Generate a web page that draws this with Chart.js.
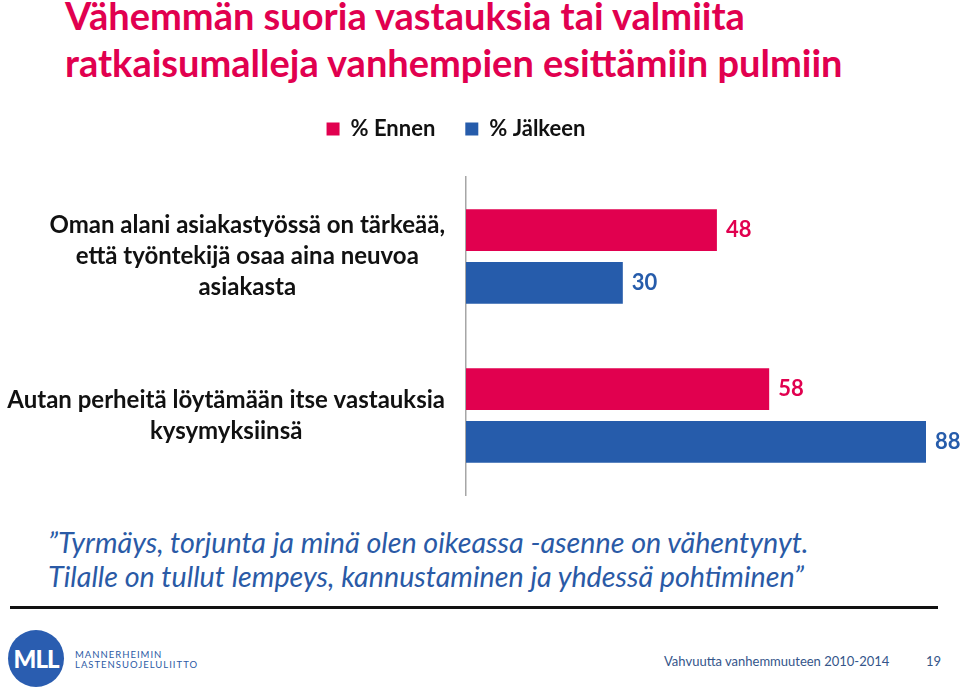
<!DOCTYPE html>
<html lang="fi">
<head>
<meta charset="utf-8">
<script src="https://cdn.jsdelivr.net/npm/chart.js@4.4.0/dist/chart.umd.min.js"></script>
<style>
  html, body { margin: 0; padding: 0; background: #fff; }
  #page { position: relative; width: 960px; height: 692px; overflow: hidden; font-family: Lato, "Open Sans", sans-serif; }
  #title { position: absolute; left: 65px; top: -8px; font-size: 38px; line-height: 47px; font-weight: 700; color: #e1004f; white-space: nowrap; }
  #chartBox { position: absolute; left: 0; top: 88px; width: 960px; height: 412px; }
  #quote { position: absolute; left: 48px; top: 525px; font-size: 28.7px; line-height: 34px; font-style: italic; color: #2a5aa6; white-space: nowrap; }
  #rule { position: absolute; left: 10px; top: 606px; width: 928px; height: 3px; background: #111; }
  #logo { position: absolute; left: 8px; top: 630px; width: 56px; height: 57px; border-radius: 50%; background: #2a5db0; color: #fff; font-weight: 900; font-size: 24px; line-height: 57px; text-align: center; letter-spacing: -1px; }
  #org { position: absolute; left: 75px; top: 650px; font-size: 9.5px; line-height: 10px; letter-spacing: 1px; color: #2b5aa5; }
  #foot { position: absolute; left: 664px; top: 653px; font-size: 13px; color: #34558a; white-space: nowrap; }
  #pageNo { position: absolute; left: 926px; top: 653px; font-size: 13px; color: #34558a; }
</style>
</head>
<body>
<div id="page">
  <div id="title">Vähemmän suoria vastauksia tai valmiita<br>ratkaisumalleja vanhempien esittämiin pulmiin</div>
  <div id="chartBox"><canvas id="barChart"></canvas></div>
  <div id="quote">”Tyrmäys, torjunta ja minä olen oikeassa -asenne on vähentynyt.<br>Tilalle on tullut lempeys, kannustaminen ja yhdessä pohtiminen”</div>
  <div id="rule"></div>
  <div id="logo">MLL</div>
  <div id="org">MANNERHEIMIN<br>LASTENSUOJELULIITTO</div>
  <div id="foot">Vahvuutta vanhemmuuteen 2010-2014</div>
  <div id="pageNo">19</div>
</div>
<script>
document.addEventListener("DOMContentLoaded", function () {
    // Data
    const categories = [
        ["Oman alani asiakastyössä on tärkeää,", "että työntekijä osaa aina neuvoa", "asiakasta"],
        ["Autan perheitä löytämään itse vastauksia", "kysymyksiinsä"]
    ];
    const seriesNames = ["% Ennen", "% Jälkeen"];
    const ennen = [48, 58];
    const jalkeen = [30, 88];

    const pink = "#e1004f";
    const blue = "#265cab";
    const labelFont = "700 24px Lato";

    // legend sits a bit left of centre and leaves room under it
    const legendTweak = {
        id: "legendTweak",
        beforeInit(chart) {
            const fit = chart.legend.fit;
            chart.legend.fit = function () {
                fit.call(this);
                this.height += 27;
            };
        },
        afterLayout(chart) {
            chart.legend.left -= 7;
            chart.legend.right -= 7;
        }
    };

    // category labels: each block right-aligned, lines centred inside it
    const categoryText = {
        id: "categoryText",
        afterDraw(chart) {
            const ctx = chart.ctx;
            const yScale = chart.scales.y;
            ctx.save();
            ctx.font = labelFont;
            ctx.fillStyle = "#111";
            ctx.textAlign = "center";
            ctx.textBaseline = "middle";
            const lineH = 31;
            categories.forEach(function (lines, i) {
                const widest = Math.max.apply(null, lines.map(l => ctx.measureText(l).width));
                const cx = 445 - widest / 2;
                const cy = yScale.getPixelForValue(i);
                const top = cy - (lines.length - 1) * lineH / 2;
                lines.forEach(function (l, j) {
                    ctx.fillText(l, cx, top + j * lineH);
                });
            });
            ctx.restore();
        }
    };

    // values after bar ends
    const valueText = {
        id: "valueText",
        afterDatasetsDraw(chart) {
            const ctx = chart.ctx;
            ctx.save();
            ctx.font = "700 22px Lato";
            ctx.textAlign = "left";
            ctx.textBaseline = "middle";
            chart.data.datasets.forEach(function (ds, di) {
                const meta = chart.getDatasetMeta(di);
                ctx.fillStyle = ds.backgroundColor;
                meta.data.forEach(function (bar, i) {
                    ctx.fillText(String(ds.data[i]), bar.x + 9, bar.y);
                });
            });
            ctx.restore();
        }
    };

    const canvas = document.getElementById("barChart");
    new Chart(canvas, {
        type: "bar",
        data: {
            labels: categories,
            datasets: [
                { label: seriesNames[0], data: ennen, backgroundColor: pink },
                { label: seriesNames[1], data: jalkeen, backgroundColor: blue }
            ]
        },
        options: {
            indexAxis: "y",
            responsive: true,
            maintainAspectRatio: false,
            animation: false,
            events: [],
            categoryPercentage: 0.6625,
            barPercentage: 0.79,
            layout: { padding: { left: 0, right: 34, top: 0, bottom: 5 } },
            scales: {
                x: { display: false, min: 0, max: 88 },
                y: {
                    grid: { display: false },
                    border: { display: true, color: "#a6a6a6", width: 1.5 },
                    ticks: { display: false },
                    afterFit(scale) { scale.width = 466; }
                }
            },
            plugins: {
                legend: {
                    position: "top",
                    labels: {
                        boxWidth: 13,
                        boxHeight: 13,
                        padding: 30,
                        color: "#111",
                        font: { family: "Lato", size: 22, weight: "700" }
                    }
                },
                tooltip: { enabled: false }
            }
        },
        plugins: [legendTweak, categoryText, valueText]
    });
});
</script>
</body>
</html>
